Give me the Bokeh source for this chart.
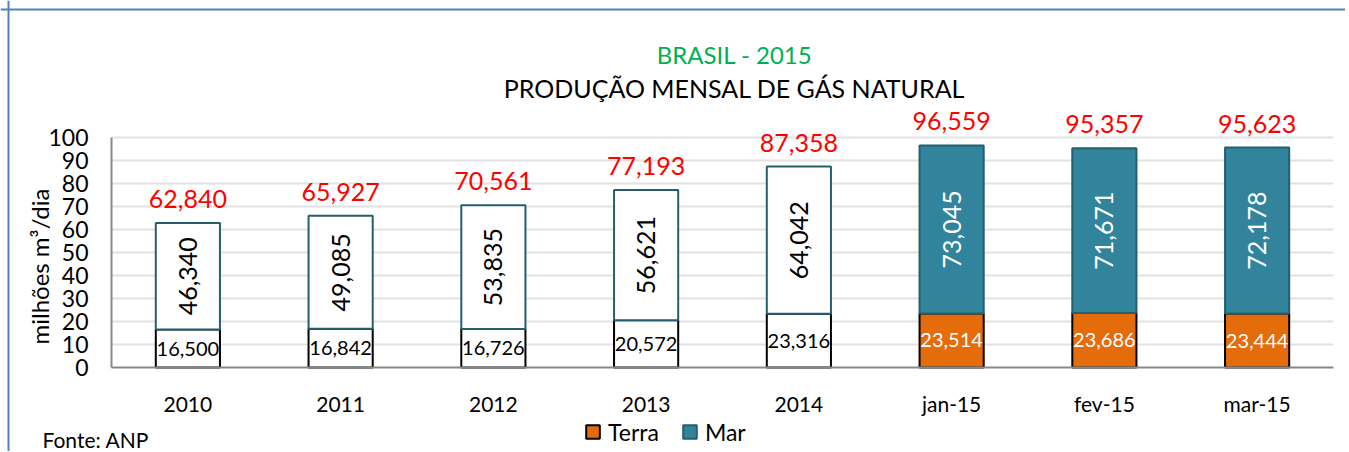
import math
from bokeh.plotting import figure
from bokeh.models import (ColumnDataSource, Range1d, LabelSet, Label, Span,
                          Legend, LegendItem, FixedTicker)
from bokeh.core.properties import value
from bokeh.embed import file_html
from bokeh.resources import INLINE

# ---- data (milhões m³/dia) ----
categories = ["2010", "2011", "2012", "2013", "2014", "jan-15", "fev-15", "mar-15"]
terra = [16.500, 16.842, 16.726, 20.572, 23.316, 23.514, 23.686, 23.444]
mar = [46.340, 49.085, 53.835, 56.621, 64.042, 73.045, 71.671, 72.178]
totals = [62.840, 65.927, 70.561, 77.193, 87.358, 96.559, 95.357, 95.623]
y_ticks = [0, 10, 20, 30, 40, 50, 60, 70, 80, 90, 100]

FONT = "Lato"
ORANGE = "#E46C0A"
TEAL = "#31849B"
TEAL_DARK = "#245F70"
BORDER = "#4F81BD"

W, H = 1345, 451
# plot-area geometry (px inside the canvas)
PLOT_L, PLOT_R = 111, 1333      # x of first/last category boundary
PLOT_B, PLOT_T = 367, 137       # y (from top) of value 0 / value 100
n = len(categories)
px_x = (PLOT_R - PLOT_L) / n
px_y = (PLOT_B - PLOT_T) / 100.0


def fmt(v):
    return ("%.3f" % v).replace(".", ",")


xs = [i + 0.5 for i in range(n)]
monthly = ["-" in c for c in categories]
src = ColumnDataSource(dict(
    x=xs,
    terra=terra,
    total=[t + m for t, m in zip(terra, mar)],
    terra_mid=[t / 2 for t in terra],
    mar_mid=[t + m / 2 for t, m in zip(terra, mar)],
    total_txt=[fmt(v) for v in totals],
    terra_txt=[fmt(v) for v in terra],
    mar_txt=[fmt(v) for v in mar],
    terra_fill=[ORANGE if m else "white" for m in monthly],
    mar_fill=[TEAL if m else "white" for m in monthly],
    txt_color=["white" if m else "black" for m in monthly],
))

x_range = Range1d(-PLOT_L / px_x, (W - PLOT_L) / px_x)
y_range = Range1d(-(H - PLOT_B) / px_y, PLOT_B / px_y)

p = figure(x_range=x_range, y_range=y_range, width=W, height=H,
           output_backend="svg", toolbar_location=None,
           min_border=0, min_border_left=0, min_border_right=0,
           min_border_top=0, min_border_bottom=0)
p.outline_line_color = None
p.background_fill_color = "white"
p.border_fill_color = "white"
p.xgrid.grid_line_color = None
p.ygrid.grid_line_color = None

# chart border (top and left edges visible)
p.add_layout(Span(location=(PLOT_B - 9) / px_y, dimension="width",
                  line_color=BORDER, line_width=2))
p.add_layout(Span(location=(8 - PLOT_L) / px_x, dimension="height",
                  line_color=BORDER, line_width=2))

# horizontal grid lines
p.segment(x0=0, x1=n, y0=y_ticks[1:], y1=y_ticks[1:], line_color="#e2e2e2", line_width=2)

BW = 0.42
r_t = p.vbar(x="x", bottom=0, top="terra", width=BW, fill_color="terra_fill",
             line_color="black", line_width=2, source=src)
r_m = p.vbar(x="x", bottom="terra", top="total", width=BW, fill_color="mar_fill",
             line_color=TEAL_DARK, line_width=2, source=src)

# axes
yax = p.yaxis[0]
yax.fixed_location = 0
yax.bounds = (0, 100)
yax.ticker = FixedTicker(ticks=y_ticks)
yax.major_label_text_font = FONT
yax.major_label_text_font_size = "23px"
yax.major_label_text_color = "black"
yax.major_label_standoff = 23
yax.major_tick_out = 0
yax.major_tick_in = 0
yax.major_tick_line_color = None
yax.minor_tick_line_color = None
yax.axis_line_color = "#888888"
yax.axis_line_width = 2

xax = p.xaxis[0]
xax.fixed_location = 0
xax.bounds = (0, n)
xax.ticker = FixedTicker(ticks=xs)
xax.major_label_overrides = {x: c for x, c in zip(xs, categories)}
xax.major_label_text_font = FONT
xax.major_label_text_font_size = "21px"
xax.major_label_text_color = "black"
xax.major_label_standoff = 23
xax.major_tick_out = 0
xax.major_tick_in = 0
xax.major_tick_line_color = None
xax.minor_tick_line_color = None
xax.axis_line_color = "#888888"
xax.axis_line_width = 2

# value labels
p.add_layout(LabelSet(x="x", y="total", text="total_txt", y_offset=15,
                      text_align="center", text_baseline="bottom", text_color="#FF0000",
                      text_font=value(FONT), text_font_size="25px", source=src))
p.add_layout(LabelSet(x="x", y="mar_mid", text="mar_txt", angle=math.pi / 2,
                      text_align="center", text_baseline="middle", text_color="txt_color",
                      text_font=value(FONT), text_font_size="25px", source=src))
p.add_layout(LabelSet(x="x", y="terra_mid", text="terra_txt",
                      text_align="center", text_baseline="middle", text_color="txt_color",
                      text_font=value(FONT), text_font_size="20px", source=src))


# texts (screen units; y given from the canvas top)
def screen_label(text, x, y_top, size, color="black", align="center", angle=0.0):
    return Label(x=x, y=H - y_top, x_units="screen", y_units="screen", text=text,
                 text_color=color, text_font=FONT, text_font_size=size,
                 text_align=align, text_baseline="middle", angle=angle)


p.add_layout(screen_label("BRASIL - 2015", 734, 54, "24px", color="#00B050"))
p.add_layout(screen_label("PRODUÇÃO MENSAL DE GÁS NATURAL", 734, 87.5, "25px"))
p.add_layout(screen_label("milhões m³/dia", 39, 344, "24px", align="left", angle=math.pi / 2))
p.add_layout(screen_label("Fonte: ANP", 42, 438.5, "21px", align="left"))

i_leg = monthly.index(True)
legend = Legend(items=[LegendItem(label="Terra", renderers=[r_t], index=i_leg),
                       LegendItem(label="Mar", renderers=[r_m], index=i_leg)],
                orientation="horizontal", location=(584, 5.5),
                label_text_font=FONT, label_text_font_size="23px", label_text_color="black",
                glyph_width=17, glyph_height=17, spacing=22, label_standoff=7,
                padding=0, margin=0, border_line_color=None, background_fill_alpha=0)
p.add_layout(legend)

open("out.html", "w").write(file_html(p, INLINE))
